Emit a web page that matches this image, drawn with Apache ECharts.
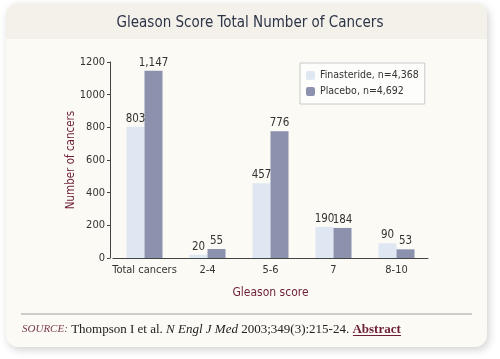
<!DOCTYPE html>
<html><head><meta charset="utf-8">
<script src="https://cdn.jsdelivr.net/npm/echarts@6/dist/echarts.min.js"></script>
<style>html,body{margin:0;padding:0;background:#fff;}#c{width:500px;height:359px;}</style>
</head><body><div id="c"></div>
<script>
var categories = ['Total cancers', '2-4', '5-6', '7', '8-10'];
var finasteride = [803, 20, 457, 190, 90];
var placebo = [1147, 55, 776, 184, 53];
var finLabels = ['803', '20', '457', '190', '90'];
var plaLabels = ['1,147', '55', '776', '184', '53'];
var yTicks = [0, 200, 400, 600, 800, 1000, 1200];
var seriesNames = ['Finasteride, n=4,368', 'Placebo, n=4,692'];

var FONT = '"DejaVu Sans Condensed", sans-serif';
var chart = echarts.init(document.getElementById('c'), null, {renderer: 'canvas'});
chart.setOption({
  animation: false,
  backgroundColor: '#ffffff',
  graphic: [
    {type: 'rect', z: -10, shape: {x: 6, y: 3, width: 481, height: 344, r: 12},
     style: {fill: '#fbfaf5', shadowBlur: 8, shadowOffsetX: 2, shadowOffsetY: 3, shadowColor: 'rgba(0,0,0,0.18)'}},
    {type: 'rect', z: -9, shape: {x: 6, y: 3, width: 481, height: 36, r: [12, 12, 0, 0]},
     style: {fill: '#f3f1e9'}},
    {type: 'line', z: -8, shape: {x1: 21, y1: 314, x2: 472, y2: 314}, style: {stroke: '#bdbdbb', lineWidth: 1.5}},
    {type: 'text', left: 22, top: 323, style: {
      text: '{s|SOURCE:} {n|Thompson I et al. }{i|N Engl J Med}{n| 2003;349(3):215-24. }{a|Abstract}',
      rich: {
        s: {fontFamily: '"Liberation Serif", serif', fontStyle: 'italic', fontSize: 11, fill: '#7b3a4c'},
        n: {fontFamily: '"Liberation Serif", serif', fontSize: 13, fill: '#222'},
        i: {fontFamily: '"Liberation Serif", serif', fontStyle: 'italic', fontSize: 13, fill: '#222'},
        a: {fontFamily: '"Liberation Serif", serif', fontWeight: 'bold', fontSize: 13, fill: '#6e1f35'}
      }
    }},
    {type: 'line', z: 5, shape: {x1: 353, y1: 335.5, x2: 401, y2: 335.5}, style: {stroke: '#6e1f35', lineWidth: 1}}
  ],
  title: {
    text: 'Gleason Score Total Number of Cancers',
    left: 'center', top: 11,
    textStyle: {fontFamily: FONT, fontSize: 15, fontWeight: 'normal', color: '#2c3448'}
  },
  legend: {
    orient: 'vertical', left: 300, top: 63,
    padding: [7, 6, 7, 6],
    itemGap: 5,
    itemWidth: 9, itemHeight: 9,
    borderColor: '#c8c8c8', borderWidth: 1, backgroundColor: '#fdfdfb',
    textStyle: {fontFamily: FONT, fontSize: 10.5, color: '#333'},
    data: seriesNames
  },
  grid: {left: 113, top: 62, width: 315, height: 196},
  xAxis: {
    type: 'category', data: categories,
    name: 'Gleason score', nameLocation: 'middle', nameGap: 29,
    nameMoveOverlap: false,
    nameTextStyle: {fontFamily: FONT, fontSize: 12, color: '#6e1f35'},
    axisLine: {lineStyle: {color: '#444', width: 1}},
    axisTick: {show: false},
    axisLabel: {interval: 0, fontFamily: FONT, fontSize: 11, color: '#333', margin: 7}
  },
  yAxis: {
    type: 'value', min: 0, max: 1200, interval: 200, offset: 3,
    name: 'Number of cancers', nameLocation: 'middle', nameGap: 33,
    nameMoveOverlap: false,
    nameTextStyle: {fontFamily: FONT, fontSize: 11.5, color: '#6e1f35'},
    axisLine: {show: true, lineStyle: {color: '#444'}},
    axisTick: {show: true, length: 3, lineStyle: {color: '#444'}},
    splitLine: {show: false},
    axisLabel: {fontFamily: FONT, fontSize: 11, color: '#333', margin: 5,
      formatter: function (v) { return yTicks.indexOf(v) >= 0 ? String(v) : ''; }}
  },
  series: [
    {name: seriesNames[0], type: 'bar', data: finasteride, barWidth: 18, barGap: '0%',
     itemStyle: {color: '#dfe7f3'},
     label: {show: true, position: 'top', distance: 2, fontFamily: FONT, fontSize: 11.5, color: '#333',
       formatter: function (p) { return finLabels[p.dataIndex]; }}},
    {name: seriesNames[1], type: 'bar', data: placebo, barWidth: 18,
     itemStyle: {color: '#8c91ae'},
     label: {show: true, position: 'top', distance: 2, fontFamily: FONT, fontSize: 11.5, color: '#333',
       formatter: function (p) { return plaLabels[p.dataIndex]; }}}
  ]
});
</script></body></html>
